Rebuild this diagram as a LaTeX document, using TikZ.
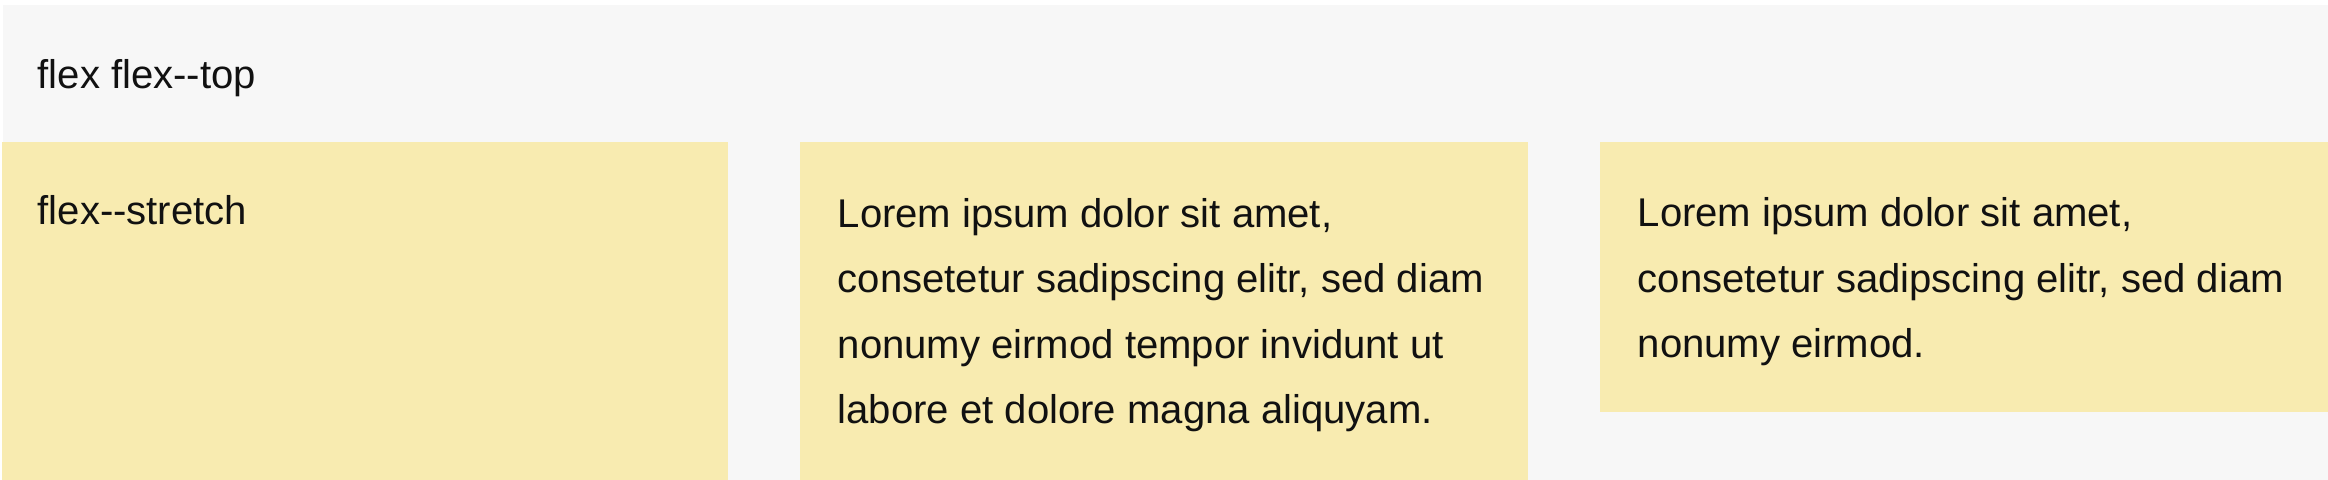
\documentclass[tikz,border=0pt]{standalone}
\usepackage{fontspec}
\setmainfont{Liberation Sans}
\definecolor{flexgray}{HTML}{F7F7F7}
\definecolor{flexyellow}{HTML}{F8EBB0}
\definecolor{flexink}{HTML}{111111}

\begin{document}
\begin{tikzpicture}[x=0.01cm, y=-0.01cm]
    \tikzstyle{item} = [fill=flexyellow, inner sep=0, outer sep=0, anchor=north west]
    \tikzstyle{words} = [inner sep=0, anchor=base west, align=left, text=flexink,
                         font=\fontsize{11.4}{18.64}\selectfont]
    \useasboundingbox [fill=white] (0,0) rectangle (2328,480);

    % Outer container
    \node [fill=flexgray, inner sep=0, anchor=north west, minimum width=2326*0.01cm,
           minimum height=476*0.01cm] (Container) at (2,4) {};
    \node [words] (TopLabel) at (37,89) {flex flex-{}-top};

    % Left item, stretched to the bottom
    \node [item, minimum width=726*0.01cm, minimum height=338*0.01cm] (Stretch) at (2,142) {};
    \node [words] (StretchLabel) at (37,225) {flex-{}-stretch};

    % Middle item, four lines (base is the last line)
    \node [item, minimum width=728*0.01cm, minimum height=338*0.01cm] (Middle) at (800,142) {};
    \node [words] (MiddleText) at (837,424) {Lorem ipsum dolor sit amet,\\
        consetetur sadipscing elitr, sed diam\\
        nonumy eirmod tempor invidunt ut\\
        labore et dolore magna aliquyam.};

    % Right item, as tall as its text
    \node [item, minimum width=728*0.01cm, minimum height=270*0.01cm] (Right) at (1600,142) {};
    \node [words] (RightText) at (1637,358) {Lorem ipsum dolor sit amet,\\
        consetetur sadipscing elitr, sed diam\\
        nonumy eirmod.};
\end{tikzpicture}
\end{document}
